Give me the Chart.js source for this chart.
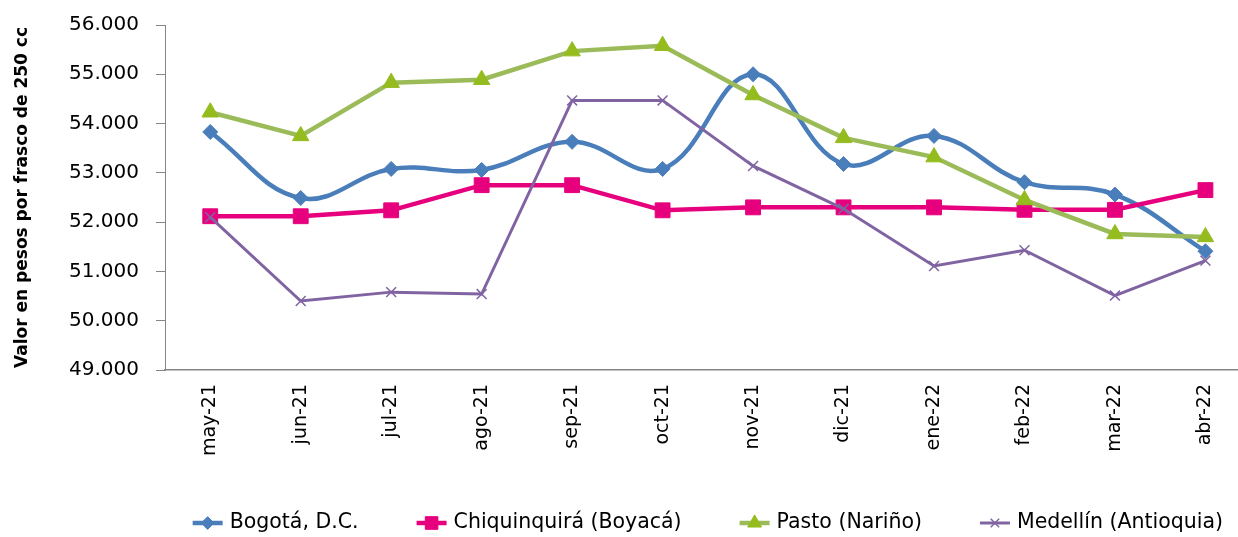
<!DOCTYPE html>
<html>
<head>
<meta charset="utf-8">
<script src="https://cdn.jsdelivr.net/npm/chart.js@4.4.0/dist/chart.umd.min.js"></script>
<style>
  html, body { margin: 0; background: #fff; overflow: hidden; }
  #wrap { width: 1238px; height: 537px; }
  canvas { display: block; }
</style>
</head>
<body>
<div id="wrap"><canvas id="myChart"></canvas></div>
<script>
const months = ['may-21', 'jun-21', 'jul-21', 'ago-21', 'sep-21', 'oct-21',
                'nov-21', 'dic-21', 'ene-22', 'feb-22', 'mar-22', 'abr-22'];
const bogota       = [53830, 52490, 53080, 53060, 53630, 53080, 55000, 53180, 53750, 52810, 52560, 51410];
const chiquinquira = [52120, 52120, 52240, 52750, 52750, 52240, 52300, 52300, 52300, 52250, 52250, 52650];
const pasto        = [54230, 53750, 54830, 54890, 55470, 55580, 54580, 53710, 53320, 52450, 51760, 51700];
const medellin     = [52100, 50400, 50580, 50540, 54470, 54470, 53140, 52270, 51110, 51430, 50510, 51220];
const yMin = 49000, yMax = 56000, yStep = 1000;

const FONT = 'DejaVu Sans';
const ctx = document.getElementById('myChart').getContext('2d');

// dots as thousand separator: 56.000
const fmt = v => String(v).replace(/\B(?=(\d{3})+(?!\d))/g, '.');
const pts = arr => arr.map((v, i) => ({x: i, y: v}));

// excel style legend: short line with the marker on it, centred under the plot
const lineLegend = {
  id: 'lineLegend',
  afterDraw(chart) {
    const {ctx, scales: {x}} = chart;
    const y = 523, seg = 30, gap = 7, space = 58;
    ctx.save();
    ctx.font = '20.5px "' + FONT + '"';
    const items = chart.data.datasets.map(ds => ({ds, w: ctx.measureText(ds.label).width}));
    const total = items.reduce((s, it) => s + seg + gap + it.w, 0) + space * (items.length - 1);
    let cx = (x.getPixelForValue(-0.5) + x.getPixelForValue(months.length - 0.5)) / 2 - total / 2;
    items.forEach(({ds, w}) => {
      ctx.strokeStyle = ds.borderColor;
      ctx.lineWidth = ds.borderWidth;
      ctx.beginPath();
      ctx.moveTo(cx, y);
      ctx.lineTo(cx + seg, y);
      ctx.stroke();
      ctx.fillStyle = ds.pointBackgroundColor;
      ctx.strokeStyle = ds.pointBorderColor;
      ctx.lineWidth = ds.pointBorderWidth;
      Chart.helpers.drawPoint(ctx, {pointStyle: ds.pointStyle, radius: ds.pointRadius * 0.85,
        borderWidth: ds.pointBorderWidth, rotation: 0}, cx + seg / 2, y);
      ctx.fillStyle = '#000';
      ctx.textAlign = 'left';
      ctx.textBaseline = 'middle';
      ctx.fillText(ds.label, cx + seg + gap, y);
      cx += seg + gap + w + space;
    });
    ctx.restore();
  }
};

var chart1 = new Chart(ctx, {
  type: 'line',
  data: {
    datasets: [
      {
        label: 'Bogotá, D.C.',
        data: pts(bogota),
        borderColor: '#4A7EBB',
        borderWidth: 4.5,
        tension: 0.4,
        pointStyle: 'rectRot',
        pointRadius: 7.5,
        pointBackgroundColor: '#4A7EBB',
        pointBorderColor: '#4A7EBB',
        pointBorderWidth: 1,
        order: 4
      },
      {
        label: 'Chiquinquirá (Boyacá)',
        data: pts(chiquinquira),
        borderColor: '#E6007E',
        borderWidth: 4.5,
        tension: 0,
        pointStyle: 'rect',
        pointRadius: 10.5,
        pointBackgroundColor: '#E6007E',
        pointBorderColor: '#E6007E',
        pointBorderWidth: 1,
        order: 3
      },
      {
        label: 'Pasto (Nariño)',
        data: pts(pasto),
        borderColor: '#9BBB59',
        borderWidth: 4.5,
        tension: 0,
        pointStyle: 'triangle',
        pointRadius: 9.5,
        pointBackgroundColor: '#95BC1E',
        pointBorderColor: '#95BC1E',
        pointBorderWidth: 1,
        order: 2
      },
      {
        label: 'Medellín (Antioquia)',
        data: pts(medellin),
        borderColor: '#8064A2',
        borderWidth: 3,
        tension: 0,
        pointStyle: 'crossRot',
        pointRadius: 7,
        pointBackgroundColor: '#8064A2',
        pointBorderColor: '#8064A2',
        pointBorderWidth: 1.5,
        order: 1
      }
    ]
  },
  options: {
    responsive: true,
    maintainAspectRatio: false,
    animation: false,
    layout: { autoPadding: false, padding: { top: 25, left: 0, right: 0, bottom: 0 } },
    plugins: {
      legend: { display: false },
      tooltip: { enabled: false }
    },
    scales: {
      x: {
        type: 'linear',
        min: -0.5,
        max: 11.36,
        grid: { display: false, drawTicks: false },
        border: { display: true, color: '#868686', width: 1.5 },
        ticks: {
          stepSize: 1,
          includeBounds: false,
          autoSkip: false,
          minRotation: 90,
          maxRotation: 90,
          padding: 14,
          color: '#000',
          font: { family: FONT, size: 19 },
          callback: v => months[v] ?? ''
        },
        afterFit: s => { s.height = 167; s.paddingLeft = 0; s.paddingRight = 0; }
      },
      y: {
        min: yMin,
        max: yMax,
        ticks: {
          stepSize: yStep,
          padding: 17,
          color: '#000',
          font: { family: FONT, size: 20 },
          callback: v => fmt(v)
        },
        grid: { drawOnChartArea: false, tickLength: 9, color: '#868686' },
        border: { color: '#868686', width: 1 },
        title: {
          display: true,
          text: 'Valor en pesos por frasco de 250 cc',
          color: '#000',
          font: { family: FONT, size: 17, weight: 'bold' },
          padding: { top: 12, bottom: 0 }
        },
        afterFit: s => { s.width = 165; s.paddingTop = 0; s.paddingBottom = 0; }
      }
    }
  },
  plugins: [lineLegend]
});
</script>
</body>
</html>
